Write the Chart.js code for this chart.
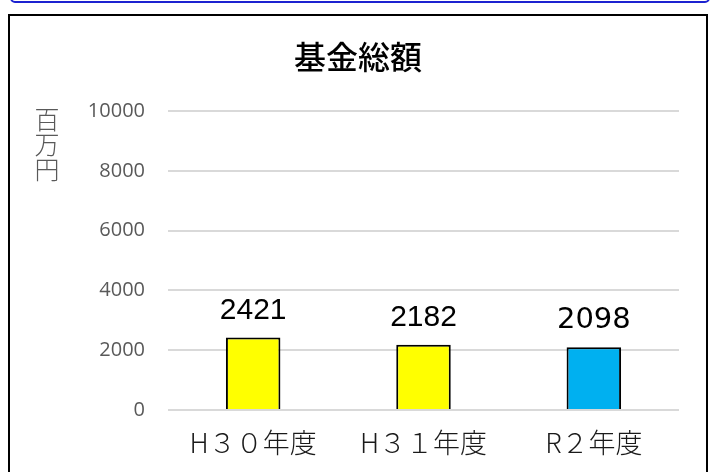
<!DOCTYPE html>
<html>
<head>
<meta charset="utf-8">
<script src="https://cdn.jsdelivr.net/npm/chart.js@4"></script>
<style>
  html, body { margin: 0; padding: 0; background: #fff; overflow: hidden; }
  #wrap { position: relative; width: 717px; height: 472px; }
  #topline { position: absolute; left: 10px; top: -20px; width: 696px; height: 19px;
    border: 2px solid #1c22d0; border-radius: 5px; }
  #frame { position: absolute; left: 8px; top: 14px; width: 696px; height: 480px;
    border: 2.5px solid #000; }
  canvas { position: absolute; left: 0; top: 0; }
</style>
</head>
<body>
<div id="wrap">
  <div id="topline"></div>
  <div id="frame"></div>
  <canvas id="fundChart" width="717" height="472"></canvas>
</div>
<script>
const categories = ['H３０年度', 'H３１年度', 'R２年度'];
const fundTotals = [2421, 2182, 2098];
const barColors = ['#FFFF00', '#FFFF00', '#00B0F0'];
const yTicks = [0, 2000, 4000, 6000, 8000, 10000];
const unitLabel = ['百', '万', '円'];
const chartTitle = '基金総額';

const jpFont = '"Noto Sans CJK JP", "Noto Sans", sans-serif';

// title, value labels above bars, vertical unit label
const extraText = {
  id: 'extraText',
  afterDatasetsDraw(chart) {
    const ctx = chart.ctx;
    const meta = chart.getDatasetMeta(0);
    ctx.save();
    ctx.textAlign = 'center';

    ctx.textBaseline = 'middle';
    ctx.fillStyle = '#000';
    ctx.font = '500 32px ' + jpFont;
    ctx.fillText(chartTitle, 358, 57);

    ctx.textBaseline = 'alphabetic';
    meta.data.forEach((bar, i) => {
      // last year's label is a bit heavier in the original
      ctx.font = i === 2 ? '29px "DejaVu Sans", sans-serif' : '30px "Liberation Sans", sans-serif';
      ctx.fillStyle = '#000';
      ctx.fillText(String(fundTotals[i]), bar.x, bar.y - 19);
    });

    // 百万円 stacked
    ctx.font = '300 25px ' + jpFont;
    ctx.fillStyle = '#595959';
    ctx.textBaseline = 'middle';
    unitLabel.forEach((ch, i) => {
      ctx.fillText(ch, 47, 119 + i * 25);
    });
    ctx.restore();
  }
};

const ctx = document.getElementById('fundChart').getContext('2d');
new Chart(ctx, {
  type: 'bar',
  data: {
    labels: categories,
    datasets: [{
      data: fundTotals,
      backgroundColor: barColors,
      borderColor: '#000',
      borderWidth: 2,
      borderSkipped: 'bottom',
      categoryPercentage: 1,
      barPercentage: 0.32
    }]
  },
  options: {
    responsive: false,
    animation: false,
    layout: { padding: { left: 0, right: 38, top: 111, bottom: 0 } },
    plugins: {
      legend: { display: false },
      tooltip: { enabled: false },
      title: { display: false }
    },
    scales: {
      y: {
        min: 0,
        max: 10000,
        afterBuildTicks: (scale) => { scale.ticks = yTicks.map(v => ({ value: v })); },
        afterFit: (scale) => { scale.width = 168; },
        border: { display: false },
        grid: { color: '#d9d9d9', lineWidth: 2, drawTicks: false },
        ticks: {
          padding: 23,
          color: '#595959',
          font: { family: '"Open Sans", sans-serif', size: 20 },
          callback: (v) => String(v)
        }
      },
      x: {
        afterFit: (scale) => { scale.height = 62; },
        border: { display: false },
        grid: { display: false },
        ticks: {
          padding: 9,
          color: '#1a1a1a',
          font: { family: jpFont, size: 27, weight: '300' }
        }
      }
    }
  },
  plugins: [extraText]
});
</script>
</body>
</html>
